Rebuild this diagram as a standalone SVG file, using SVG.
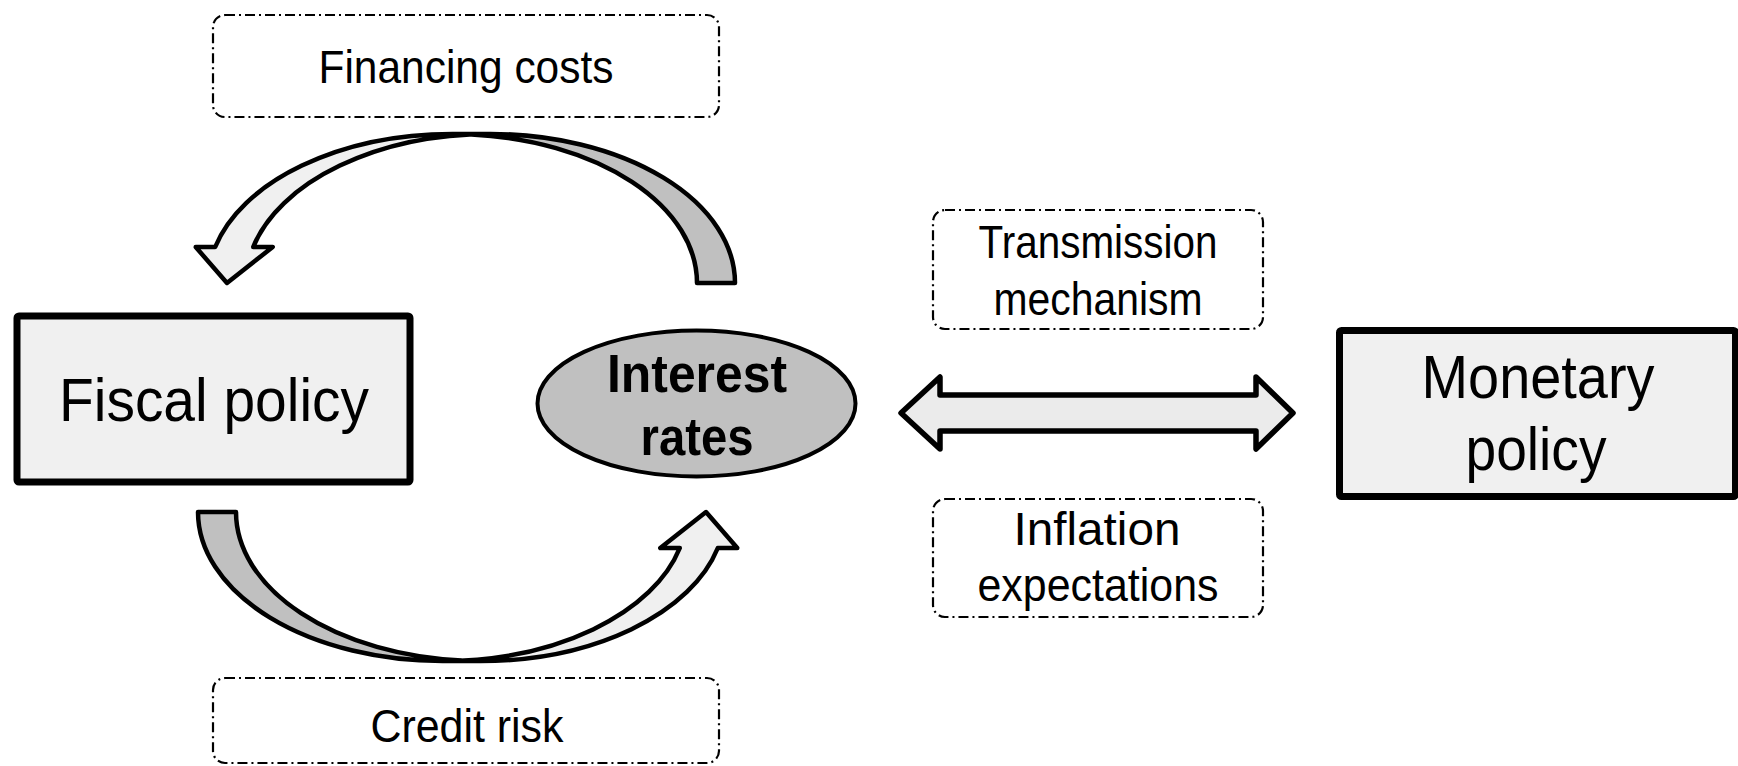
<svg xmlns="http://www.w3.org/2000/svg" xmlns:xlink="http://www.w3.org/1999/xlink" width="1738" height="766" viewBox="0 0 1738 766">
  <style>
    .box { fill: #f0f0f0; stroke: #000; stroke-width: 7; stroke-linejoin: round; }
    .note { fill: #fff; stroke: #000; stroke-width: 2.2; stroke-dasharray: 10 4 2 4; }
    .lbl { font-family: "Liberation Sans", Arial, sans-serif; fill: #000; text-anchor: middle; }
    .big { font-size: 62px; }
    .mid { font-size: 46px; }
    .bold { font-size: 53px; font-weight: bold; }
    .edge { stroke: #000; stroke-width: 4.5; stroke-linejoin: round; }
    .front { fill: #f0f0f0; }
    .back { fill: #c0c0c0; }
  </style>
  <defs>
    <!-- curved arrow: tail at the lower right, arc over the top, head pointing down on the left -->
    <g id="curved-arrow">
      <path class="back" d="M471.5,134.5 A244.5,149 0 0 1 697,283 L735,283 A244.5,149 0 0 0 471.5,134.5 Z"/>
      <path class="front" d="M227,283 L272.7,247 L253.2,247 A244.5,149 0 0 1 490.5,134 L452.5,134 A244.5,149 0 0 0 215.2,247 L195.7,247 Z"/>
      <path class="edge" fill="none" d="M471.5,134.5 A244.5,149 0 0 1 697,283 L735,283 A244.5,149 0 0 0 490.5,134 L452.5,134 A244.5,149 0 0 0 215.2,247 L195.7,247 L227,283 L272.7,247 L253.2,247 A244.5,149 0 0 1 490.5,134"/>
    </g>
  </defs>

  <rect width="1738" height="766" fill="#fff"/>

  <g id="connectors">
    <use href="#curved-arrow"/>
    <use href="#curved-arrow" transform="rotate(180 466.5 397.5)"/>
    <path d="M901,413 L940,377 L940,395 L1256,395 L1256,377 L1293,413 L1256,449 L1256,431 L940,431 L940,449 Z" fill="#ebebeb" stroke="#000" stroke-width="5.5" stroke-linejoin="round"/>
  </g>

  <g id="fiscal-policy">
    <rect class="box" x="17" y="316" width="393" height="166" rx="2"/>
    <text class="lbl big" x="214" y="421" textLength="310" lengthAdjust="spacingAndGlyphs">Fiscal policy</text>
  </g>

  <g id="interest-rates">
    <ellipse cx="696.5" cy="403.5" rx="159" ry="73" fill="#c0c0c0" stroke="#000" stroke-width="4"/>
    <text class="lbl bold" x="697" y="392" textLength="180" lengthAdjust="spacingAndGlyphs">Interest</text>
    <text class="lbl bold" x="697" y="455" textLength="113" lengthAdjust="spacingAndGlyphs">rates</text>
  </g>

  <g id="monetary-policy">
    <rect class="box" x="1339.5" y="330.5" width="396" height="166" rx="2"/>
    <text class="lbl big" x="1538" y="398" textLength="233" lengthAdjust="spacingAndGlyphs">Monetary</text>
    <text class="lbl big" x="1536" y="470" textLength="141" lengthAdjust="spacingAndGlyphs">policy</text>
  </g>

  <g id="financing-costs">
    <rect class="note" x="213" y="15" width="506" height="102" rx="12"/>
    <text class="lbl mid" x="466" y="83" textLength="295" lengthAdjust="spacingAndGlyphs">Financing costs</text>
  </g>

  <g id="credit-risk">
    <rect class="note" x="213" y="678" width="506" height="85" rx="12"/>
    <text class="lbl mid" x="467" y="742" textLength="193" lengthAdjust="spacingAndGlyphs">Credit risk</text>
  </g>

  <g id="transmission-mechanism">
    <rect class="note" x="933" y="210" width="330" height="119" rx="12"/>
    <text class="lbl mid" x="1098" y="258" textLength="239" lengthAdjust="spacingAndGlyphs">Transmission</text>
    <text class="lbl mid" x="1098" y="315" textLength="209" lengthAdjust="spacingAndGlyphs">mechanism</text>
  </g>

  <g id="inflation-expectations">
    <rect class="note" x="933" y="499" width="330" height="118" rx="12"/>
    <text class="lbl mid" x="1097" y="545" textLength="167" lengthAdjust="spacingAndGlyphs">Inflation</text>
    <text class="lbl mid" x="1098" y="601" textLength="241" lengthAdjust="spacingAndGlyphs">expectations</text>
  </g>
</svg>
